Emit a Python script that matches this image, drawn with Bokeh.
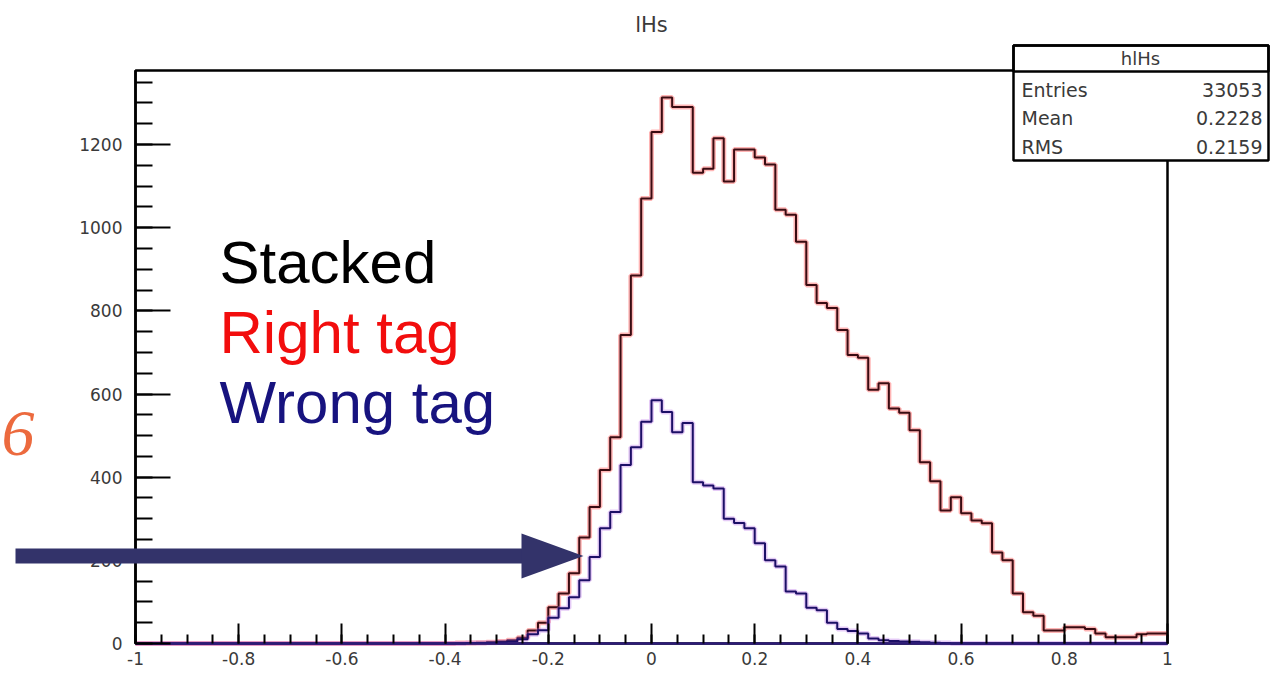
import numpy as np
from bokeh.plotting import figure
from bokeh.models import (Range1d, SingleIntervalTicker, LinearAxis, Label,
                          BoxAnnotation, PolyAnnotation, CustomJSTickFormatter)
from bokeh.embed import file_html
from bokeh.resources import INLINE

# ---------------- data ----------------
bin_edges = np.round(np.linspace(-1.0, 1.0, 101), 2)   # 100 bins of width 0.02

# total ("Stacked" = Right tag + Wrong tag), bins from -1.00 ... 0.98
stacked_counts = [0] * 31 + [
    1, 1, 2, 3, 5, 8, 14, 31, 50, 87,            # -0.38 .. -0.20
    120, 169, 255, 328, 417, 496, 742, 885, 1070,  # -0.18 .. -0.02
    1230, 1313, 1290, 1290, 1132, 1142, 1215, 1111, 1188, 1188,  # 0.00 .. 0.18
    1169, 1152, 1043, 1031, 966, 862, 819, 807, 754, 694,        # 0.20 .. 0.38
    687, 610, 626, 565, 555, 513, 436, 390, 320, 352,            # 0.40 .. 0.58
    313, 296, 289, 219, 200, 120, 75, 67, 31, 31,                # 0.60 .. 0.78
    39, 39, 35, 24, 15, 15, 15, 22, 24, 24,                      # 0.80 .. 0.98
]

wrong_counts = [0] * 31 + [
    0, 1, 1, 2, 3, 5, 10, 22, 32, 62,            # -0.38 .. -0.20
    85, 111, 152, 208, 277, 316, 429, 472, 533,  # -0.18 .. -0.02
    585, 557, 508, 530, 388, 380, 373, 300, 290, 277,  # 0.00 .. 0.18
    241, 200, 185, 125, 120, 86, 80, 50, 35, 30,       # 0.20 .. 0.38
    24, 12, 8, 6, 5, 4, 3, 2, 1, 0,                    # 0.40 .. 0.58
    0, 0, 0, 0, 0, 0, 0, 0, 0, 0,
    0, 0, 0, 0, 0, 0, 0, 0, 0, 0,
]

x_min, x_max = -1.0, 1.0
y_min, y_max = 0, 1378

legend_texts = ["Stacked", "Right tag", "Wrong tag"]
legend_colors = ["#000000", "#f20d0d", "#17137f"]

stats_title = "hlHs"
stats_names = ["Entries", "Mean", "RMS"]
stats_values = ["33053", "0.2228", "0.2159"]
plot_title = "lHs"

# ---------------- layout (canvas pixels) ----------------
W, H = 1272, 678
FR_L, FR_R, FR_T, FR_B = 135, 1167, 70, 643      # plot frame in canvas pixels
sx = (FR_R - FR_L) / (x_max - x_min)
sy = (FR_B - FR_T) / (y_max - y_min)

def px2x(px):
    return x_min + (px - FR_L) / sx

def px2y(py):
    return y_min + (FR_B - py) / sy

p = figure(width=W, height=H, output_backend="svg", toolbar_location=None,
           x_range=Range1d(px2x(0), px2x(W)), y_range=Range1d(px2y(H), px2y(0)),
           x_axis_location=None, y_axis_location=None,
           min_border=0, min_border_left=0, min_border_right=0,
           min_border_top=0, min_border_bottom=0)
p.outline_line_color = None
p.grid.visible = False
p.background_fill_color = "white"
p.border_fill_color = "white"

TXT = "#3a3a3a"

# frame box (drawn beneath the histograms)
p.add_layout(BoxAnnotation(left=x_min, right=x_max, bottom=y_min, top=y_max,
                           fill_color=None, fill_alpha=0, line_color="black",
                           line_alpha=1, line_width=2.5, level="underlay"))

# ---------------- histograms ----------------
st_y = list(stacked_counts) + [stacked_counts[-1]]
wr_y = list(wrong_counts) + [wrong_counts[-1]]
p.step(bin_edges, st_y, mode="after", line_color="#ff2a2a", line_width=5, line_alpha=0.35)
p.step(bin_edges, st_y, mode="after", line_color="#3a0c12", line_width=2)
p.step(bin_edges, wr_y, mode="after", line_color="#b46ae6", line_width=5, line_alpha=0.35)
p.step(bin_edges, wr_y, mode="after", line_color="#1c0f66", line_width=2)

# ---------------- axes (ROOT style, ticks inside) ----------------
xax = LinearAxis(fixed_location=y_min, bounds=(x_min - 1e-6, x_max + 1e-6),
                 ticker=SingleIntervalTicker(interval=0.2, num_minor_ticks=4),
                 formatter=CustomJSTickFormatter(code="return Number(tick.toFixed(2)).toString()"))
yax = LinearAxis(fixed_location=x_min, bounds=(y_min, y_max),
                 ticker=SingleIntervalTicker(interval=200, num_minor_ticks=4))
for ax in (xax, yax):
    ax.axis_line_width = 2.5
    ax.axis_line_color = "black"
    ax.major_tick_line_width = 2
    ax.minor_tick_line_width = 2
    ax.major_tick_line_color = "black"
    ax.minor_tick_line_color = "black"
    ax.major_tick_out = 0
    ax.minor_tick_out = 0
    ax.major_label_text_font = "DejaVu Sans"
    ax.major_label_text_font_size = "17px"
    ax.major_label_text_color = TXT
xax.axis_line_color = "#2d1b78"
xax.major_tick_in = 20
xax.minor_tick_in = 9
xax.major_label_standoff = 8
yax.major_tick_in = 35
yax.minor_tick_in = 17
yax.major_label_standoff = 13
p.add_layout(xax, "below")
p.add_layout(yax, "left")

# title
p.add_layout(Label(x=px2x(651), y=px2y(24), text=plot_title, text_align="center",
                   text_baseline="middle", text_font="DejaVu Sans", text_font_size="21px",
                   text_color=TXT))

# stats box
p.add_layout(BoxAnnotation(left=px2x(1013), right=px2x(1268), top=px2y(45), bottom=px2y(160),
                           fill_color="white", fill_alpha=1, line_color="black",
                           line_alpha=1, line_width=2.5))
p.add_layout(BoxAnnotation(left=px2x(1013), right=px2x(1268), top=px2y(45), bottom=px2y(71),
                           fill_color=None, fill_alpha=0, line_color="black",
                           line_alpha=1, line_width=2.5))
p.add_layout(Label(x=px2x(1140), y=px2y(58), text=stats_title, text_align="center",
                   text_baseline="middle", text_font="DejaVu Sans", text_font_size="18px",
                   text_color=TXT))
for i, (nm, vl) in enumerate(zip(stats_names, stats_values)):
    yy = px2y(89 + 28.5 * i)
    p.add_layout(Label(x=px2x(1021), y=yy, text=nm, text_align="left", text_baseline="middle",
                       text_font="DejaVu Sans", text_font_size="19px", text_color=TXT))
    p.add_layout(Label(x=px2x(1262), y=yy, text=vl, text_align="right", text_baseline="middle",
                       text_font="DejaVu Sans", text_font_size="19px", text_color=TXT))

# big coloured texts
for i, (t, c) in enumerate(zip(legend_texts, legend_colors)):
    p.add_layout(Label(x=px2x(219), y=px2y(262 + 70 * i), text=t, text_align="left",
                       text_baseline="alphabetic", text_font="Liberation Sans",
                       text_font_size="60px", text_color=c))

# arrow
ARROW = "#33336a"
p.add_layout(BoxAnnotation(left=px2x(15), right=px2x(526), top=px2y(548), bottom=px2y(563),
                           fill_color=ARROW, fill_alpha=1, line_color=None))
p.add_layout(PolyAnnotation(xs=[px2x(521), px2x(583), px2x(521)],
                            ys=[px2y(533), px2y(555.5), px2y(578)],
                            fill_color=ARROW, fill_alpha=1, line_color=None))

# handwritten mark at the left edge
p.add_layout(Label(x=px2x(1), y=px2y(433), text="6", text_align="left",
                   text_baseline="middle", text_font="Liberation Serif",
                   text_font_style="italic", text_font_size="66px", text_color="#ec6a3e"))

open("out.html", "w").write(file_html(p, INLINE))
